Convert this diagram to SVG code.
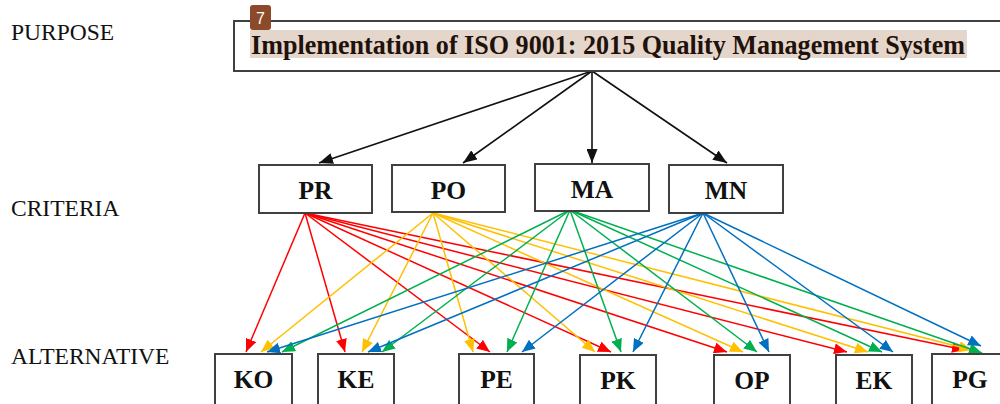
<svg xmlns="http://www.w3.org/2000/svg" width="1000" height="404" viewBox="0 0 1000 404">
<defs>
<style>
.lbl{font-family:"Liberation Serif","Times New Roman",serif;font-size:23.5px;fill:#111}
.box{fill:#fff;stroke:#404040;stroke-width:2}
.nt{font-family:"Liberation Serif","Times New Roman",serif;font-weight:bold;font-size:25.5px;fill:#111;text-anchor:middle}
.k{stroke:#111;stroke-width:1.6;fill:none;marker-end:url(#mk)}
.r{stroke:#ff0000;stroke-width:1.5;fill:none;marker-end:url(#mr)}
.y{stroke:#ffc000;stroke-width:1.5;fill:none;marker-end:url(#my)}
.g{stroke:#00b050;stroke-width:1.5;fill:none;marker-end:url(#mg)}
.b{stroke:#0070c0;stroke-width:1.5;fill:none;marker-end:url(#mb)}
</style>
<marker id="mk" viewBox="0 0 14 11" refX="14" refY="5.5" markerWidth="14" markerHeight="11" markerUnits="userSpaceOnUse" orient="auto"><path d="M0,0L14,5.5L0,11z" fill="#111"/></marker>
<marker id="mr" viewBox="0 0 13 11" refX="13" refY="5.5" markerWidth="13" markerHeight="11" markerUnits="userSpaceOnUse" orient="auto"><path d="M0,0L13,5.5L0,11z" fill="#ff0000"/></marker>
<marker id="my" viewBox="0 0 13 11" refX="13" refY="5.5" markerWidth="13" markerHeight="11" markerUnits="userSpaceOnUse" orient="auto"><path d="M0,0L13,5.5L0,11z" fill="#ffc000"/></marker>
<marker id="mg" viewBox="0 0 13 11" refX="13" refY="5.5" markerWidth="13" markerHeight="11" markerUnits="userSpaceOnUse" orient="auto"><path d="M0,0L13,5.5L0,11z" fill="#00b050"/></marker>
<marker id="mb" viewBox="0 0 13 11" refX="13" refY="5.5" markerWidth="13" markerHeight="11" markerUnits="userSpaceOnUse" orient="auto"><path d="M0,0L13,5.5L0,11z" fill="#0070c0"/></marker>
</defs>
<rect x="0" y="0" width="1000" height="404" fill="#fff"/>

<g id="level-labels">
<text class="lbl" x="11" y="40">PURPOSE</text>
<text class="lbl" x="11" y="216">CRITERIA</text>
<text class="lbl" x="11" y="364">ALTERNATIVE</text>
</g>

<g id="connectors">
<line class="k" x1="592" y1="71" x2="319" y2="163"/>
<line class="k" x1="592" y1="71" x2="463" y2="163"/>
<line class="k" x1="592" y1="71" x2="592" y2="163"/>
<line class="k" x1="592" y1="71" x2="727" y2="163"/>

<line class="r" x1="305" y1="213" x2="246" y2="352"/>
<line class="r" x1="305" y1="213" x2="345" y2="352"/>
<line class="r" x1="305" y1="213" x2="490" y2="352"/>
<line class="r" x1="305" y1="213" x2="611" y2="352"/>
<line class="r" x1="305" y1="213" x2="727" y2="352"/>
<line class="r" x1="305" y1="213" x2="847" y2="352"/>
<line class="r" x1="305" y1="213" x2="965" y2="350"/>

<line class="y" x1="433" y1="213" x2="261" y2="352"/>
<line class="y" x1="433" y1="213" x2="362" y2="352"/>
<line class="y" x1="433" y1="213" x2="473" y2="352"/>
<line class="y" x1="433" y1="213" x2="595" y2="352"/>
<line class="y" x1="433" y1="213" x2="743" y2="352"/>
<line class="y" x1="433" y1="213" x2="868" y2="352"/>
<line class="y" x1="433" y1="213" x2="972" y2="350"/>

<line class="g" x1="570" y1="210" x2="282" y2="352"/>
<line class="g" x1="570" y1="210" x2="382" y2="352"/>
<line class="g" x1="570" y1="210" x2="507" y2="352"/>
<line class="g" x1="570" y1="210" x2="621" y2="352"/>
<line class="g" x1="570" y1="210" x2="757" y2="352"/>
<line class="g" x1="570" y1="210" x2="882" y2="352"/>
<line class="g" x1="570" y1="210" x2="982" y2="353"/>

<line class="b" x1="703" y1="213" x2="267" y2="352"/>
<line class="b" x1="703" y1="213" x2="368" y2="352"/>
<line class="b" x1="703" y1="213" x2="522" y2="352"/>
<line class="b" x1="703" y1="213" x2="633" y2="352"/>
<line class="b" x1="703" y1="213" x2="769" y2="352"/>
<line class="b" x1="703" y1="213" x2="893" y2="352"/>
<line class="b" x1="703" y1="213" x2="981" y2="346"/>
</g>

<g id="purpose">
<rect class="box" x="234" y="21" width="770" height="50"/>
<rect x="250" y="30" width="717" height="28" fill="#e5d6cc"/>
<text x="251" y="53.5" textLength="714" lengthAdjust="spacingAndGlyphs" style="font-family:'Liberation Serif','Times New Roman',serif;font-weight:bold;font-size:27px;fill:#1f120b">Implementation of ISO 9001: 2015 Quality Management System</text>
<rect x="250" y="5" width="21" height="25" rx="3" fill="#8c4a2a"/>
<text x="260.5" y="24" text-anchor="middle" style="font-family:'Liberation Sans',Arial,sans-serif;font-size:16px;fill:#fff">7</text>
</g>

<g id="PR"><rect class="box" x="259" y="165" width="113" height="48"/><text class="nt" x="315.5" y="199">PR</text></g>
<g id="PO"><rect class="box" x="392" y="165" width="113" height="47"/><text class="nt" x="448.5" y="199">PO</text></g>
<g id="MA"><rect class="box" x="535" y="164" width="114" height="47"/><text class="nt" x="592" y="198">MA</text></g>
<g id="MN"><rect class="box" x="669" y="165" width="114" height="48"/><text class="nt" x="726" y="199">MN</text></g>

<g id="KO"><rect class="box" x="215" y="354" width="77" height="60"/><text class="nt" x="253.5" y="388">KO</text></g>
<g id="KE"><rect class="box" x="318" y="354" width="76" height="60"/><text class="nt" x="356" y="388">KE</text></g>
<g id="PE"><rect class="box" x="459" y="354" width="75" height="60"/><text class="nt" x="496.5" y="388">PE</text></g>
<g id="PK"><rect class="box" x="580" y="355" width="76" height="60"/><text class="nt" x="618" y="389">PK</text></g>
<g id="OP"><rect class="box" x="714" y="355" width="76" height="60"/><text class="nt" x="752" y="389">OP</text></g>
<g id="EK"><rect class="box" x="836" y="355" width="76" height="60"/><text class="nt" x="874" y="389">EK</text></g>
<g id="PG"><rect class="box" x="932" y="354" width="77" height="60"/><text class="nt" x="970" y="388">PG</text></g>
</svg>
